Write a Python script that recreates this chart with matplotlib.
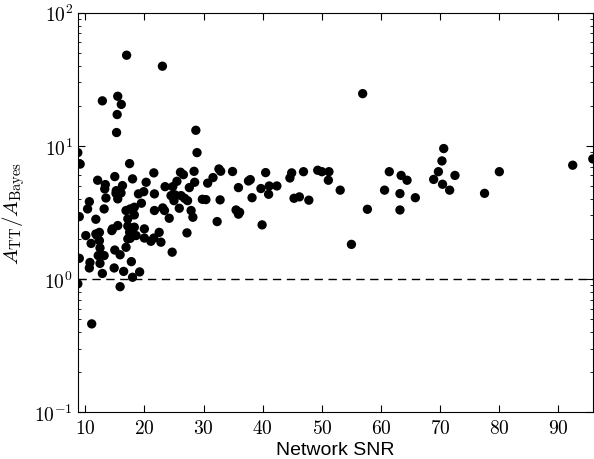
import numpy as np
import matplotlib
matplotlib.use("Agg")
import matplotlib.pyplot as plt
from matplotlib.ticker import FuncFormatter, FixedLocator, LogLocator

plt.rcParams['mathtext.fontset'] = 'cm'

# network SNR vs ratio of areas
snr = [17.0, 23.05, 12.9, 15.5, 16.1, 15.4, 15.3, 28.7, 28.9, 8.75, 9.15, 17.5,
       56.9, 70.6, 70.3, 92.4, 95.8, 69.7, 72.5, 68.9, 70.4, 71.6, 80.0, 77.5,
       61.4, 63.4, 64.4, 60.6, 63.2, 65.8, 57.7, 63.2, 53.1, 51.2, 51.1, 49.3,
       50.0, 46.9, 44.9, 44.6, 45.3, 46.2, 47.8, 55.0,
       32.6, 32.9, 34.9, 31.6, 30.7, 37.9, 37.6, 40.5, 35.9, 39.7, 41.1, 42.4,
       41.0, 38.2, 29.8, 30.4, 32.8, 35.5, 36.1, 35.9, 32.3, 39.9,
       12.1, 13.4, 13.3, 13.5, 15.0, 15.25, 15.2, 15.5, 16.3, 16.05, 18.0, 20.3,
       21.6, 19.0, 19.9, 19.5, 21.7, 23.5, 24.8, 26.1, 26.6, 28.4, 28.5, 27.6,
       25.5, 24.5, 25.2, 26.2, 26.8, 27.3, 25.0, 10.7, 10.4, 13.2, 9.0, 11.8,
       16.9, 17.6, 18.3, 18.3, 17.2, 21.7, 23.1, 23.4, 24.2, 25.9, 27.9, 28.2,
       10.1, 12.0, 12.4, 14.6, 15.5, 17.2, 17.5, 18.3, 18.6, 20.0, 22.5, 27.2,
       17.2, 20.0, 11.8, 11.0, 12.4, 12.5, 9.0, 10.8, 10.7, 12.2, 13.2, 12.5,
       12.9, 15.0, 15.9, 14.9, 16.5, 17.8, 18.0, 19.2, 16.9, 17.6, 21.1, 21.6,
       22.8, 24.7, 8.75, 15.9, 11.1, 14.5]
ratio = [48, 39.7, 21.8, 23.6, 20.5, 17.2, 12.6, 13.1, 8.9, 8.9, 7.3, 7.36,
         24.7, 9.55, 7.71, 7.16, 7.98, 6.4, 6.0, 5.6, 5.15, 4.65, 6.4, 4.4,
         6.4, 6.0, 5.52, 4.65, 4.38, 4.08, 3.34, 3.30, 4.65, 6.4, 5.52, 6.56,
         6.4, 6.4, 6.27, 5.74, 4.04, 4.14, 3.91, 1.82,
         6.71, 6.45, 6.42, 5.78, 5.25, 5.58, 5.45, 6.3, 4.86, 4.78, 5.0, 5.0,
         4.33, 4.08, 3.97, 3.95, 3.93, 3.3, 3.17, 3.07, 2.7, 2.55,
         5.52, 5.12, 4.75, 4.06, 5.88, 4.61, 4.4, 4.0, 5.03, 4.43, 5.65, 5.33,
         6.27, 4.36, 4.53, 3.71, 4.36, 4.94, 4.94, 6.34, 6.08, 6.44, 5.33, 4.86,
         5.42, 4.23, 4.28, 4.23, 4.04, 3.88, 3.88, 3.81, 3.36, 3.36, 2.94, 2.81,
         3.27, 3.36, 3.46, 3.03, 2.83, 3.27, 3.42, 3.27, 2.86, 3.4, 3.27, 2.91,
         2.12, 2.12, 2.24, 2.38, 2.52, 2.5, 2.24, 2.45, 2.12, 2.38, 2.24, 2.22,
         2.0, 2.03, 2.18, 1.85, 1.94, 1.71, 1.43, 1.33, 1.21, 1.5, 1.5, 1.31,
         1.1, 1.65, 1.52, 1.21, 1.14, 1.35, 1.03, 1.13, 1.73, 2.02, 1.92, 2.03,
         1.89, 1.59, 0.92, 0.875, 0.46, 2.31]

xticks = [10, 20, 30, 40, 50, 60, 70, 80, 90]

fig = plt.figure(figsize=(5.94, 4.6), dpi=100)
ax = fig.add_axes([0.131, 0.102, 0.867, 0.868])

ax.scatter(snr, ratio, s=45, c='k', edgecolors='none', zorder=3)
ax.axhline(1.0, color='k', lw=1.0, ls=(0, (6, 4)))

ax.set_yscale('log')
ax.set_ylim(0.1, 100)
ax.set_xlim(min(snr), max(snr))

ax.xaxis.set_major_locator(FixedLocator(xticks))
ax.xaxis.set_major_formatter(FuncFormatter(lambda v, p: r'$%d$' % v))
ax.yaxis.set_major_locator(LogLocator(base=10))
ax.yaxis.set_minor_locator(LogLocator(base=10, subs=np.arange(2, 10)))
ax.yaxis.set_major_formatter(FuncFormatter(lambda v, p: r'$10^{%d}$' % round(np.log10(v))))

ax.tick_params(which='both', direction='in', top=True, right=True, labelsize=14)
ax.tick_params(which='major', length=5, width=0.8)
ax.tick_params(which='minor', length=2.5, width=0.6)
ax.tick_params(axis='x', pad=4)

ax.set_xlabel('Network SNR', fontsize=14, family='Liberation Sans', labelpad=3)
ax.set_ylabel(r'$A_{\rm TT}/A_{\rm Bayes}$', fontsize=15, labelpad=5)

fig.savefig('out.png', dpi=100)
